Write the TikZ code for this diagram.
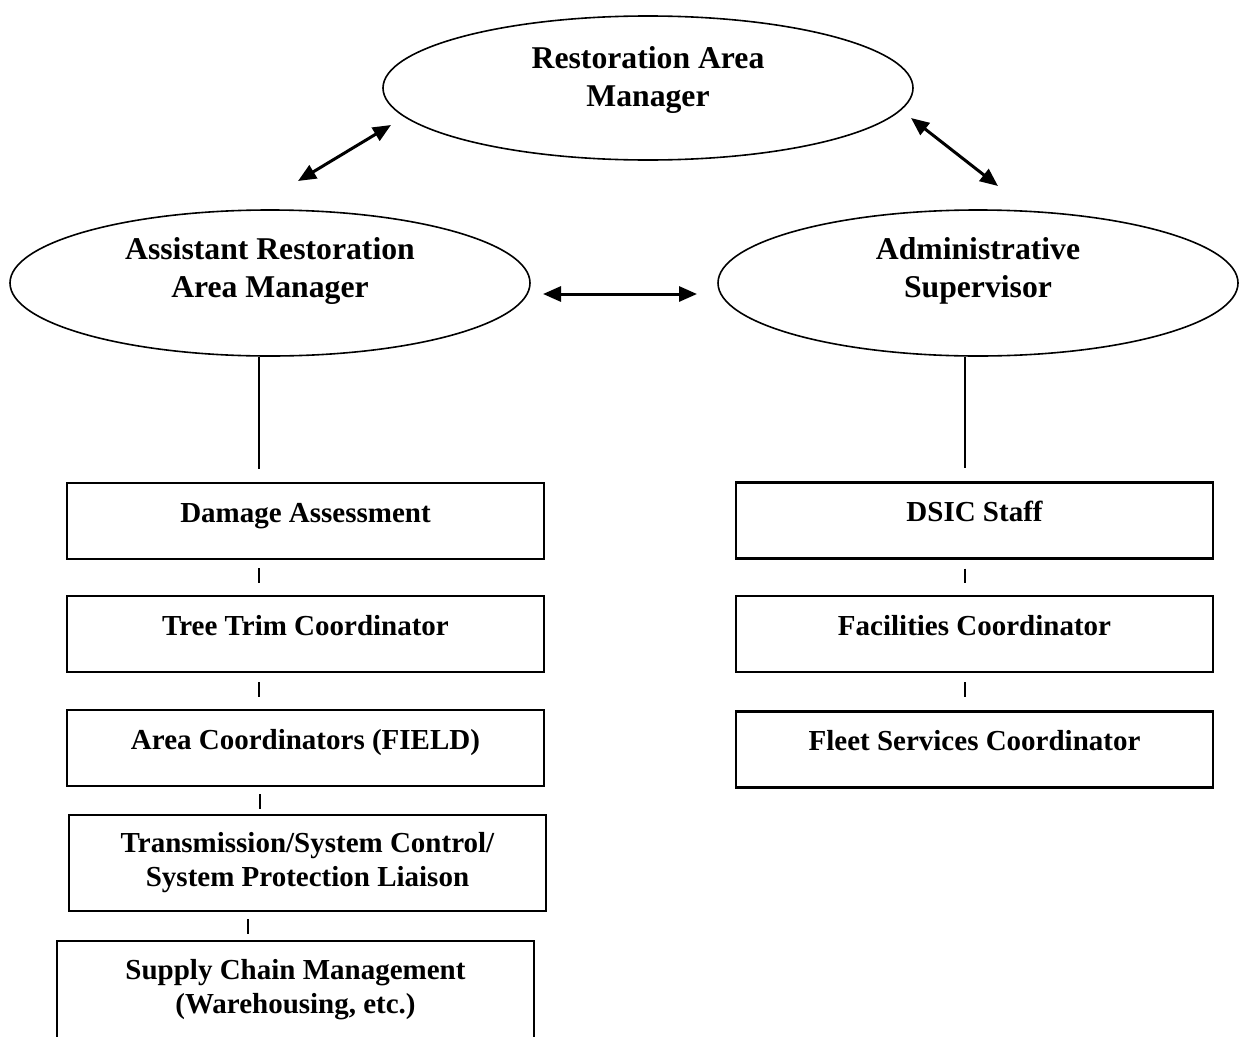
\documentclass[tikz,border=0pt]{standalone}
\usepackage{fontspec}
\setmainfont{Liberation Serif}
\usetikzlibrary{shapes.geometric,arrows.meta}

\tikzset{
  role/.style={draw, ellipse, line width=1.6pt, minimum width=520pt, minimum height=146pt,
    inner sep=0pt, align=center, font=\fontsize{31.7}{38}\selectfont\bfseries},
  unit/.style={draw, rectangle, line width=2.2pt, minimum width=477pt, inner sep=0pt,
    text height=39pt, text depth=37pt, font=\fontsize{29}{34}\selectfont\bfseries},
  unittwo/.style={draw, rectangle, line width=2.2pt, minimum width=477pt, minimum height=96pt,
    inner sep=0pt, align=center, font=\fontsize{29}{34}\selectfont\bfseries},
  link/.style={line width=1.4pt},
  both/.style={line width=3pt, {Triangle[length=18pt,width=15pt]}-{Triangle[length=18pt,width=15pt]}},
}

\begin{document}
\begin{tikzpicture}[x=1pt,y=-1pt]
\path[use as bounding box, clip] (0,0) rectangle (1241,1036);

% managers
\node[role, minimum width=530pt, minimum height=144pt, text depth=22pt] (ram) at (648,88) {Restoration Area\\Manager};
\node[role, text depth=32pt] (aram) at (270,283) {Assistant Restoration\\Area Manager};
\node[role, text depth=32pt] (adm) at (978,283) {Administrative\\Supervisor};

% arrows between managers
\coordinate (al) at (298,181);
\coordinate (ar) at (391,125);
\coordinate (bl) at (911,118);
\coordinate (br) at (998,186);
\coordinate (cl) at (543,294);
\coordinate (cr) at (697,294);
\draw[both] (al) -- (ar);
\draw[both] (bl) -- (br);
\draw[both] (cl) -- (cr);

% left column
\node[unit] (dmg) at (305.5,521) {Damage Assessment};
\node[unit] (tree) at (305.5,634) {Tree Trim Coordinator};
\node[unit] (area) at (305.5,748) {Area Coordinators (FIELD)};
\node[unittwo] (trans) at (307.5,863) {Transmission/System Control/\\System Protection Liaison};
\node[unittwo, minimum height=97pt] (supply) at (295.5,989.5) {Supply Chain Management\\(Warehousing, etc.)};

% right column
\node[unit] (dsic) at (974.5,520.5) {DSIC Staff};
\node[unit] (fac) at (974.5,634) {Facilities Coordinator};
\node[unit] (fleet) at (974.5,749.5) {Fleet Services Coordinator};

% links
\draw[link, shorten >=13pt] ([xshift=-11pt]aram.south) -- ([xshift=-46.5pt]dmg.north);
\draw[link, shorten <=8pt, shorten >=12pt] ([xshift=-46.5pt]dmg.south) -- ([xshift=-46.5pt]tree.north);
\draw[link, shorten <=9pt, shorten >=12pt] ([xshift=-46.5pt]tree.south) -- ([xshift=-46.5pt]area.north);
\draw[link, shorten <=7pt, shorten >=5pt] ([xshift=-45.5pt]area.south) -- ([xshift=-47.5pt]trans.north);
\draw[link, shorten <=7pt, shorten >=6pt] ([xshift=-59.5pt]trans.south) -- ([xshift=-47.5pt]supply.north);

\draw[link, shorten >=13pt] ([xshift=-13pt]adm.south) -- ([xshift=-9.5pt]dsic.north);
\draw[link, shorten <=9pt, shorten >=12pt] ([xshift=-9.5pt]dsic.south) -- ([xshift=-9.5pt]fac.north);
\draw[link, shorten <=9pt, shorten >=13pt] ([xshift=-9.5pt]fac.south) -- ([xshift=-9.5pt]fleet.north);
\end{tikzpicture}
\end{document}
